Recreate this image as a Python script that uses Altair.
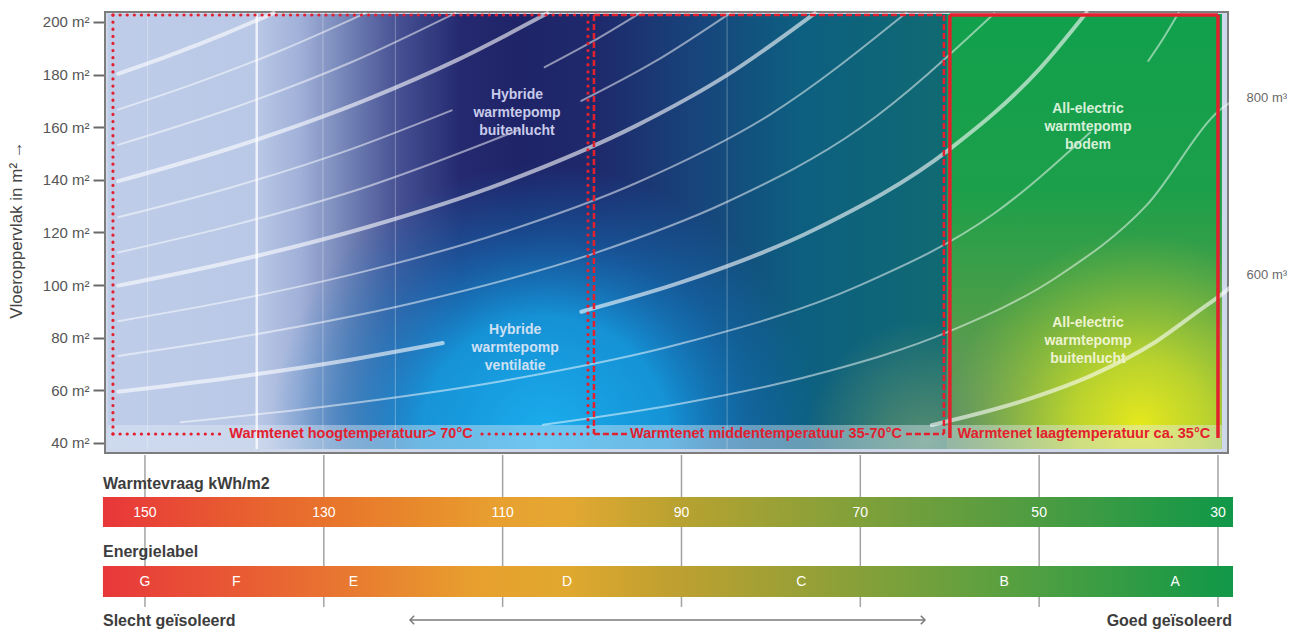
import altair as alt
import pandas as pd

# ---------------- values ----------------
demand_ticks = [150, 130, 110, 90, 70, 50, 30]          # Warmtevraag kWh/m2
area_ticks = [40, 60, 80, 100, 120, 140, 160, 180, 200]  # Vloeroppervlak m2
energy_labels = ["G", "F", "E", "D", "C", "B", "A"]
energy_label_demand = [150, 139.8, 126.7, 102.8, 76.6, 53.9, 34.8]

# white iso-lines: segment -> (demand kWh/m2, floor area m2)
curve_segments = {
    "k12": ([153, 147, 141, 135.6], [180.3, 187.6, 195.6, 203.4]),
    "k11": ([153, 145, 135, 125.4], [166.7, 175.9, 188.9, 203.3]),
    "k10": ([153, 140, 127, 115.3], [153.3, 167.5, 184.6, 203.4]),
    "k9": ([153, 140, 125, 115, 105], [139.5, 152.5, 170.8, 185.7, 203.3]),
    "k8a": ([153, 140, 127, 115.7], [125.8, 137.5, 151.6, 166.4]),
    "k8b": ([105.3, 100, 94.6], [182.8, 192.5, 203.5]),
    "k7a": ([153, 140, 125, 108.1], [112.4, 122.9, 137.6, 159.1]),
    "k7b": ([101.2, 93, 84.6], [170.0, 184.9, 203.3]),
    "k6": ([153, 140, 125, 110, 95, 85, 75.1], [99.8, 109.1, 122.2, 138.8, 160.7, 179.6, 203.3]),
    "k5": ([153, 140, 125, 110, 95, 80, 64.9], [86.3, 94.3, 105.6, 120.0, 138.9, 165.0, 203.4]),
    "k4": ([153, 140, 120, 100, 85, 70, 55], [73.1, 79.9, 93.2, 111.8, 131.5, 159.7, 203.3]),
    "k3a": ([153, 140, 128, 116.7], [59.5, 65.0, 71.1, 78.0]),
    "k3b": ([101.2, 90, 75, 60, 50, 44.7], [89.9, 101.1, 121.3, 151.7, 182.0, 203.6]),
    "k2a": ([146, 130, 110, 90, 70, 55, 44.3], [47.9, 53.8, 63.6, 77.8, 100.0, 127.3, 158.0]),
    "k2b": ([37.8, 36.0, 34.4], [185.2, 194.4, 203.5]),
    "k1": ([105.5, 90, 75, 60, 48, 38, 29.66, 27.9], [46.9, 55.0, 66.0, 82.5, 103.1, 130.3, 166.9, 171.1]),
    "k0": ([62, 52, 44, 37, 32, 29.66, 27.9], [46.8, 55.8, 65.9, 78.4, 90.6, 96.3, 101.2]),
}
thick_segments = ["k12", "k9", "k6", "k3a", "k3b", "k0"]

curve_end_labels = ["800 m³", "600 m³"]
curve_end_demand = [26.8, 26.8]
curve_end_area = [171.1, 103.8]

guide_demand_faint = [149.7, 130.1, 122.0, 84.9]
guide_demand_strong = [137.5]

zone_labels = ["Warmtenet hoogtemperatuur> 70°C",
               "Warmtenet middentemperatuur 35-70°C",
               "Warmtenet laagtemperatuur  ca. 35°C"]
zone_left = [153.58, 99.79, 59.98]
zone_right = [100.46, 60.65, 30.0]
zone_top = 202.66
zone_bottom = 43.42
zone_label_demand = [126.96, 80.55, 45.0]
zone_gap_left = [141.39, 95.98]
zone_gap_right = [112.31, 64.90]

system_labels = ["Hybride\nwarmtepomp\nbuitenlucht",
                 "Hybride\nwarmtepomp\nventilatie",
                 "All-electric\nwarmtepomp\nbodem",
                 "All-electric\nwarmtepomp\nbuitenlucht"]
system_label_demand = [108.4, 108.6, 44.54, 44.54]
system_label_area = [172.3, 82.9, 166.9, 85.6]

# plot extents (data units)
plot_demand = [154.47, 28.88]
plot_area = [-23.09, 203.42]
frame_demand = [154.47, 28.88]
frame_area = [203.80, 36.20]
fill_demand = [154.14, 29.56]
fill_area = [203.04, 37.72]
blue_split = [137.36, 60.31]
band_area = [46.84, 37.72]
bar_demand = [154.70, 28.32]
arrow_demand = [120.36, 62.77]

FONT = "Liberation Sans"
XS = alt.Scale(domain=plot_demand, nice=False, zero=False)
YS = alt.Scale(domain=plot_area, nice=False, zero=False)

yaxis = alt.Axis(values=area_ticks, labelExpr="datum.value + ' m²'", tickSize=12,
                 tickWidth=2, tickColor="#6a6a6a", domain=False, grid=False,
                 labelFontSize=15, labelColor="#555555", labelFont=FONT,
                 labelPadding=4, title=None)


def X(field):
    return alt.X(field, scale=XS, axis=None)


def Y(field):
    return alt.Y(field, scale=YS, axis=yaxis)


def lin(stops, x1=0, y1=0, x2=1, y2=0):
    return alt.LinearGradient(gradient="linear",
                              stops=[alt.GradientStop(offset=o, color=c) for o, c in stops],
                              x1=x1, y1=y1, x2=x2, y2=y2)


def rad(stops, cx, cy, r):
    return alt.RadialGradient(gradient="radial",
                              stops=[alt.GradientStop(offset=o, color=c) for o, c in stops],
                              x1=cx, y1=cy, r1=0, x2=cx, y2=cy, r2=r)


def rect(x1, x2, y1, y2, **mark):
    df = pd.DataFrame({"x": [x1], "x2": [x2], "y": [y1], "y2": [y2]})
    return alt.Chart(df).mark_rect(**mark).encode(
        x=X("x:Q"), x2="x2:Q", y=Y("y:Q"), y2="y2:Q")


layers = []
# frame
layers.append(rect(frame_demand[0], frame_demand[1], frame_area[0], frame_area[1],
                   fill="#cfd8ea", stroke="#7d7d7d", strokeWidth=2))
# base horizontal gradient (pale -> navy -> teal)
layers.append(rect(fill_demand[0], blue_split[1], fill_area[0], fill_area[1], fill=lin([
    (0, "#bfcde9"), (0.178, "#b9c8e6"), (0.229, "#a0b0d8"), (0.288, "#7080b4"),
    (0.348, "#454f92"), (0.42, "#252a70"), (0.491, "#1f2468"), (0.586, "#1e2a6c"),
    (0.706, "#17457c"), (0.825, "#0d5f80"), (1.0, "#106a72")])))
# bright blue glow at the bottom
layers.append(rect(blue_split[0], blue_split[1], fill_area[0], fill_area[1], fill=rad([
    (0, "rgba(26,174,238,1)"), (0.45, "rgba(20,160,228,0.88)"),
    (0.75, "rgba(16,130,200,0.4)"), (1, "rgba(16,120,190,0)")], 0.4166, 0.8026, 0.40)))
# grey-green glow near the middle/low boundary
layers.append(rect(blue_split[0], blue_split[1], fill_area[0], fill_area[1], fill=rad([
    (0, "rgba(88,142,112,0.95)"), (1, "rgba(88,142,112,0)")], 0.968, 0.8026, 0.174)))
# green zone
layers.append(rect(blue_split[1], fill_demand[1], fill_area[0], fill_area[1], fill=lin([
    (0, "#11a04c"), (0.4, "#1c9f4a"), (0.7, "#4e9e48"), (1, "#7aa842")], 0, 0, 0, 1)))
layers.append(rect(blue_split[1], fill_demand[1], fill_area[0], fill_area[1], fill=rad([
    (0, "rgba(88,140,112,0.85)"), (1, "rgba(88,140,112,0)")], 0.202, 0.98, 0.3)))
layers.append(rect(blue_split[1], fill_demand[1], fill_area[0], fill_area[1], fill=rad([
    (0, "rgba(230,232,28,1)"), (0.35, "rgba(206,222,40,0.8)"),
    (1, "rgba(160,200,60,0)")], 0.6276, 0.945, 0.44)))
# translucent band at the bottom
layers.append(rect(fill_demand[0], fill_demand[1], band_area[0], band_area[1],
                   fill="#e2ebf6", opacity=0.42))

# vertical white guides
for vals, w, op in [(guide_demand_faint, 1, 0.3), (guide_demand_strong, 2.5, 0.75)]:
    gdf = pd.DataFrame({"x": vals, "y": fill_area[0], "y2": fill_area[1]})
    layers.append(alt.Chart(gdf).mark_rule(color="white", strokeWidth=w, opacity=op).encode(
        x=X("x:Q"), y=Y("y:Q"), y2="y2:Q"))

# iso-lines
rows = []
for name, (ds, as_) in curve_segments.items():
    for i, (d, a) in enumerate(zip(ds, as_)):
        rows.append({"seg": name, "i": i, "d": d, "a": a, "thick": name in thick_segments})
cdf = pd.DataFrame(rows)
for thick, w, op in [(False, 2, 0.5), (True, 4, 0.6)]:
    layers.append(alt.Chart(cdf[cdf.thick == thick]).mark_line(
        color="white", strokeWidth=w, opacity=op, strokeCap="round", interpolate="monotone").encode(
        x=X("d:Q"), y=Y("a:Q"), detail="seg:N", order="i:Q"))


# red zone frames
def zone_rules(k):
    l, r = zone_left[k], zone_right[k]
    low = zone_bottom if k < 2 else 41.9
    segs = [(l, l, zone_top, low), (r, r, zone_top, low), (l, r, zone_top, zone_top)]
    if k < 2:
        segs.append((l, zone_gap_left[k], zone_bottom, zone_bottom))
        segs.append((zone_gap_right[k], r, zone_bottom, zone_bottom))
    return pd.DataFrame(segs, columns=["x", "x2", "y", "y2"])


zone_styles = [dict(strokeDash=[0.1, 7], strokeWidth=3.2, strokeCap="round"),
               dict(strokeDash=[6, 3], strokeWidth=2.5),
               dict(strokeWidth=3.5)]
for k in range(3):
    layers.append(alt.Chart(zone_rules(k)).mark_rule(color="#e3202e", **zone_styles[k]).encode(
        x=X("x:Q"), x2="x2:Q", y=Y("y:Q"), y2="y2:Q"))

zdf = pd.DataFrame({"t": zone_labels, "d": zone_label_demand, "a": zone_bottom})
layers.append(alt.Chart(zdf).mark_text(font=FONT, fontSize=14.5, fontWeight="bold",
                                       color="#e3202e", baseline="middle").encode(
    x=X("d:Q"), y=Y("a:Q"), text="t:N"))

# system labels
sys_colors = ["#c9cbea", "#cfe0f3", "#d6efd8", "#eef3cf"]
sdf = pd.DataFrame({"t": system_labels, "d": system_label_demand,
                    "a": system_label_area, "c": sys_colors})
layers.append(alt.Chart(sdf).mark_text(font=FONT, fontSize=14, fontWeight="bold",
                                       lineBreak="\n", lineHeight=18, baseline="middle").encode(
    x=X("d:Q"), y=Y("a:Q"), text="t:N", color=alt.Color("c:N", scale=None)))

# m3 labels at the right
edf = pd.DataFrame({"t": curve_end_labels, "d": curve_end_demand, "a": curve_end_area})
layers.append(alt.Chart(edf).mark_text(font=FONT, fontSize=13, color="#6a6a6a",
                                       align="left", baseline="middle").encode(
    x=X("d:Q"), y=Y("a:Q"), text="t:N"))

# y axis title
layers.append(alt.Chart(pd.DataFrame({"t": ["Vloeroppervlak in m²  →"]})).mark_text(
    font=FONT, fontSize=17, color="#444444", angle=270, baseline="alphabetic").encode(
    x=alt.value(-83), y=alt.value(217), text="t:N"))

# ---------------- bottom panel ----------------
tdf = pd.DataFrame({"d": demand_ticks, "t": [str(v) for v in demand_ticks]})
layers.append(alt.Chart(tdf).mark_rule(color="#a3a3a3", strokeWidth=1.5).encode(
    x=X("d:Q"), y=alt.value(442), y2=alt.value(594)))

bar1 = lin([(0, "#e8363a"), (0.13, "#e8602f"), (0.2, "#e8742c"), (0.28, "#e88a2c"),
            (0.35, "#e8a030"), (0.41, "#e4a832"), (0.51, "#b8a230"), (0.67, "#80a03a"),
            (0.83, "#4c9c42"), (1.0, "#0f9848")])
bar2 = lin([(0, "#e8383a"), (0.12, "#e85a34"), (0.22, "#e87a30"), (0.33, "#e8a02e"),
            (0.41, "#e0a82e"), (0.5, "#c0a030"), (0.62, "#98a036"), (0.8, "#58a040"),
            (1.0, "#109848")])
bdf = pd.DataFrame({"x": [bar_demand[0]], "x2": [bar_demand[1]]})
for fill, y1, y2 in [(bar1, 484, 514), (bar2, 553, 584)]:
    layers.append(alt.Chart(bdf).mark_rect(fill=fill).encode(
        x=X("x:Q"), x2="x2:Q", y=alt.value(y1), y2=alt.value(y2)))

layers.append(alt.Chart(tdf).mark_text(font=FONT, fontSize=14, color="white",
                                       baseline="middle").encode(
    x=X("d:Q"), y=alt.value(500), text="t:N"))
ldf = pd.DataFrame({"d": energy_label_demand, "t": energy_labels})
layers.append(alt.Chart(ldf).mark_text(font=FONT, fontSize=14, color="white",
                                       baseline="middle").encode(
    x=X("d:Q"), y=alt.value(569), text="t:N"))

for txt, xv, yv, al in [("Warmtevraag kWh/m2", -2, 476, "left"),
                        ("Energielabel", -2, 544, "left"),
                        ("Slecht geïsoleerd", -2, 613, "left"),
                        ("Goed geïsoleerd", 1127, 613, "right")]:
    layers.append(alt.Chart(pd.DataFrame({"t": [txt]})).mark_text(
        font=FONT, fontSize=16, fontWeight="bold", color="#3d3d3d", align=al,
        baseline="alphabetic").encode(x=alt.value(xv), y=alt.value(yv), text="t:N"))

adf = pd.DataFrame({"x": [arrow_demand[0]], "x2": [arrow_demand[1]]})
layers.append(alt.Chart(adf).mark_rule(color="#7a7a7a", strokeWidth=1.5).encode(
    x=X("x:Q"), x2="x2:Q", y=alt.value(607)))
hdf = pd.DataFrame({"x": arrow_demand, "s": ["M1,-1L0,0L1,1", "M-1,-1L0,0L-1,1"]})
for k in range(2):
    layers.append(alt.Chart(hdf.iloc[[k]]).mark_point(
        shape=hdf.s[k], filled=False, stroke="#7a7a7a", strokeWidth=1.5, size=70, opacity=1).encode(
        x=X("x:Q"), y=alt.value(607)))

chart = alt.layer(*layers).properties(
    width=1123, height=596,
    autosize=alt.AutoSizeParams(type="none"),
    padding={"left": 97, "top": 5, "right": 63, "bottom": 22},
).configure_view(stroke=None)

chart.save("out.html", embed_options={"renderer": "svg", "actions": False})
